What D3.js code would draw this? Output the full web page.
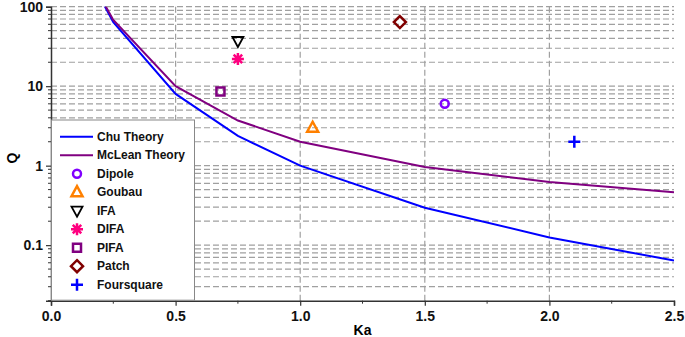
<!DOCTYPE html>
<html>
<head>
<meta charset="utf-8">
<script src="https://cdn.jsdelivr.net/npm/d3@7"></script>
<style>
  body { margin: 0; background: #fff; }
  svg { font-family: "Liberation Sans", Arial, sans-serif; font-weight: bold; }
</style>
</head>
<body>
<svg id="chart" width="685" height="337"></svg>
<script>
// theory curves, sampled
const ka = [0.2, 0.25, 0.5, 0.75, 1.0, 1.5, 2.0, 2.5];
const chuQ = [125, 64, 8, 2.37, 1, 0.296, 0.125, 0.064];
const mcleanQ = [130, 68, 10, 3.7, 2, 0.963, 0.625, 0.464];

// measured antennas
const antennas = ['Dipole', 'Goubau', 'IFA', 'DIFA', 'PIFA', 'Patch', 'Foursquare'];
const antennaKa = [1.58, 1.05, 0.75, 0.75, 0.68, 1.4, 2.1];
const antennaQ = [6.0, 3.0, 37, 22, 8.6, 64, 2.0];

const xTicks = [0, 0.5, 1.0, 1.5, 2.0, 2.5];
const yTicks = [0.1, 1, 10, 100];

const colors = {
  'Chu Theory': '#0000ff',
  'McLean Theory': '#800080',
  'Dipole': '#8000ff',
  'Goubau': '#ff8000',
  'IFA': '#000000',
  'DIFA': '#ff0080',
  'PIFA': '#800080',
  'Patch': '#800000',
  'Foursquare': '#0000ff'
};

let svg = d3.select('#chart');

let margin = { top: 6.7, bottom: 36.3, left: 51, right: 11 };
let width = 685, height = 337;

let x = d3.scaleLinear()
  .domain([0, 2.5])
  .range([margin.left, width - margin.right]);

let y = d3.scaleLog()
  .domain([0.02, 100])
  .range([height - margin.bottom, margin.top]);

// minor values for the log axis (2..9 of each decade)
let minorY = [];
for (let e = -2; e <= 1; e++) {
  for (let m = 1; m <= 9; m++) {
    let v = m * Math.pow(10, e);
    if (v >= 0.02 && v <= 100) minorY.push(+v.toPrecision(3));
  }
}
minorY.push(100);

// grid
svg.append('g')
  .selectAll('line')
  .data(minorY.filter(v => v > 0.02))
  .enter()
  .append('line')
  .attr('x1', x(0))
  .attr('x2', x(2.5))
  .attr('y1', d => y(d))
  .attr('y2', d => y(d))
  .attr('stroke', '#a0a0a0')
  .attr('stroke-width', 1.2)
  .attr('stroke-dasharray', '6,3');

svg.append('g')
  .selectAll('line')
  .data([0.5, 1.0, 1.5, 2.0])
  .enter()
  .append('line')
  .attr('x1', d => x(d))
  .attr('x2', d => x(d))
  .attr('y1', y(100))
  .attr('y2', y(0.02))
  .attr('stroke', '#a0a0a0')
  .attr('stroke-width', 1.2)
  .attr('stroke-dasharray', '6,3');

// axes
let xAxis = svg.append('g')
  .attr('transform', `translate(0,${y(0.02)})`)
  .call(d3.axisBottom(x).tickValues(xTicks).tickFormat(d3.format('.1f')).tickSize(5).tickPadding(5));
xAxis.append('g')
  .selectAll('line')
  .data([0.25, 0.75, 1.25, 1.75, 2.25])
  .enter()
  .append('line')
  .attr('x1', d => x(d))
  .attr('x2', d => x(d))
  .attr('y1', 0)
  .attr('y2', 3)
  .attr('stroke', '#333');

let yAxis = svg.append('g')
  .attr('transform', `translate(${x(0)},0)`)
  .call(d3.axisLeft(y).tickValues(yTicks).tickFormat(d => d < 1 ? d3.format('.1f')(d) : d).tickSize(5).tickPadding(3));
yAxis.append('g')
  .selectAll('line')
  .data(minorY.filter(v => yTicks.indexOf(v) < 0))
  .enter()
  .append('line')
  .attr('x1', -3)
  .attr('x2', 0)
  .attr('y1', d => y(d))
  .attr('y2', d => y(d))
  .attr('stroke', '#333');

[xAxis, yAxis].forEach(a => {
  a.select('.domain').attr('stroke', '#333').attr('stroke-width', 1.5);
  a.selectAll('.tick line').attr('stroke', '#333').attr('stroke-width', 1.2);
  a.selectAll('text')
    .attr('fill', '#111')
    .style('font-size', '14px')
    .style('font-weight', 'bold')
    .style('font-family', '"Liberation Sans", Arial, sans-serif');
});

svg.append('text')
  .attr('x', (x(0) + x(2.5)) / 2)
  .attr('y', 335)
  .attr('text-anchor', 'middle')
  .style('font-size', '14px')
  .text('Ka');

svg.append('text')
  .attr('transform', `translate(17,158) rotate(-90)`)
  .attr('text-anchor', 'middle')
  .style('font-size', '14px')
  .text('Q');

// curves
let clip = svg.append('clipPath').attr('id', 'plotclip')
  .append('rect')
  .attr('x', x(0))
  .attr('y', y(100))
  .attr('width', x(2.5) - x(0))
  .attr('height', y(0.02) - y(100));

let line = d3.line()
  .x(d => x(d[0]))
  .y(d => y(d[1]));

let curves = [
  { name: 'Chu Theory', values: d3.zip(ka, chuQ) },
  { name: 'McLean Theory', values: d3.zip(ka, mcleanQ) }
];

svg.append('g')
  .attr('clip-path', 'url(#plotclip)')
  .selectAll('path')
  .data(curves)
  .enter()
  .append('path')
  .attr('fill', 'none')
  .attr('stroke', d => colors[d.name])
  .attr('stroke-width', 2)
  .attr('d', d => line(d.values));

// marker shapes, drawn around 0,0
let marker = (name) => {
  let s = 5;
  if (name == 'Dipole') return d3.symbol(d3.symbolCircle, 50)();
  if (name == 'Goubau') return `M0,${-s - 1}L${s + 0.5},${s - 1}L${-s - 0.5},${s - 1}Z`;
  if (name == 'IFA') return `M0,${s + 1}L${s + 0.5},${-s + 1}L${-s - 0.5},${-s + 1}Z`;
  if (name == 'DIFA') {
    let r = 6, q = r * Math.SQRT1_2;
    return `M0,${-r}V${r}M${-r},0H${r}M${-q},${-q}L${q},${q}M${-q},${q}L${q},${-q}`;
  }
  if (name == 'PIFA') return `M-4,-4H4V4H-4Z`;
  if (name == 'Patch') return `M0,-6L6,0L0,6L-6,0Z`;
  if (name == 'Foursquare') return `M0,-6V6M-6,0H6`;
};

svg.append('g')
  .selectAll('path')
  .data(antennas)
  .enter()
  .append('path')
  .attr('transform', (d, i) => `translate(${x(antennaKa[i])},${y(antennaQ[i])})`)
  .attr('d', d => marker(d))
  .attr('fill', 'none')
  .attr('stroke', d => colors[d])
  .attr('stroke-width', d => d == 'IFA' ? 1.8 : 2.5);

// legend
let legend = svg.append('g');
legend.append('rect')
  .attr('x', x(0) + 0.5)
  .attr('y', 120)
  .attr('width', 143)
  .attr('height', y(0.02) - 120 - 0.5)
  .attr('fill', '#fff')
  .attr('stroke', '#888')
  .attr('stroke-width', 1);

let items = ['Chu Theory', 'McLean Theory'].concat(antennas);
let entry = legend.selectAll('.entry')
  .data(items)
  .enter()
  .append('g')
  .attr('class', 'entry')
  .attr('transform', (d, i) => `translate(77,${136.7 + i * 18.5})`);

entry.filter((d, i) => i < 2)
  .append('line')
  .attr('x1', -17)
  .attr('x2', 16)
  .attr('stroke', d => colors[d])
  .attr('stroke-width', 2);

entry.filter((d, i) => i >= 2)
  .append('path')
  .attr('d', d => marker(d))
  .attr('fill', 'none')
  .attr('stroke', d => colors[d])
  .attr('stroke-width', d => d == 'IFA' ? 1.8 : 2.5);

entry.append('text')
  .attr('x', 20)
  .attr('dy', '0.35em')
  .attr('fill', '#111')
  .style('font-size', '12px')
  .text(d => d);
</script>
</body>
</html>
